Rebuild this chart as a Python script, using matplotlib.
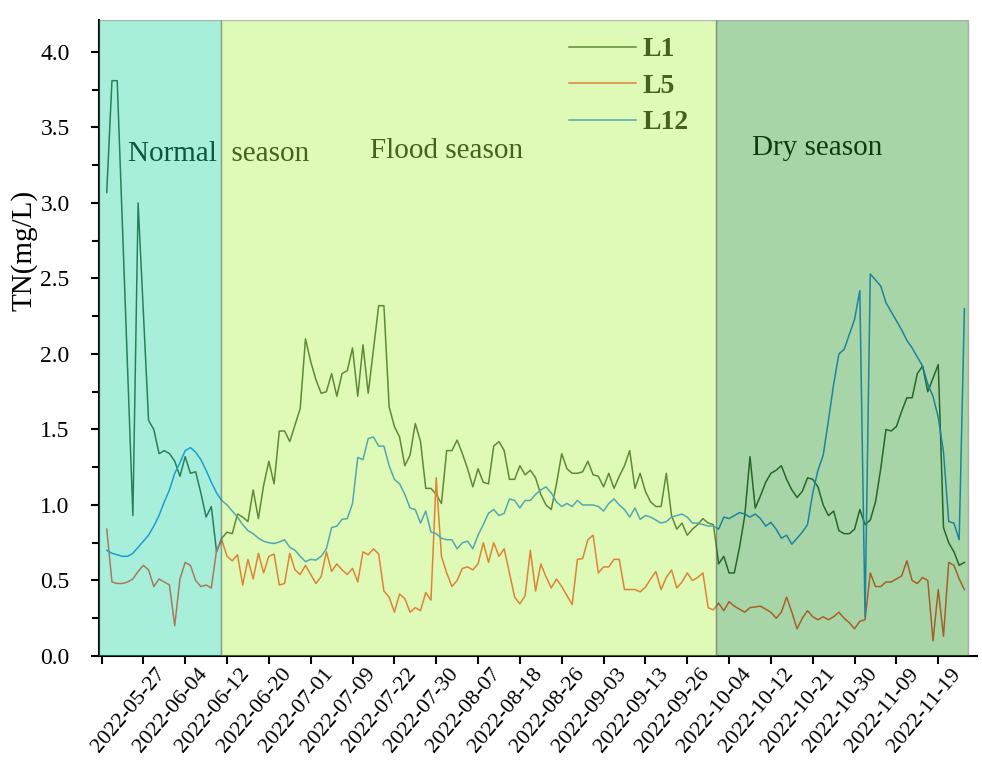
import numpy as np
import matplotlib
matplotlib.use('Agg')
import matplotlib.pyplot as plt
import matplotlib.transforms as mtransforms
from matplotlib.ticker import MultipleLocator, FormatStrFormatter

plt.rcParams['font.family'] = ['Liberation Serif', 'DejaVu Serif']

# tick dates (one label every 8 samples)
dates = ['2022-05-27', '2022-06-04', '2022-06-12', '2022-06-20', '2022-07-01',
         '2022-07-09', '2022-07-22', '2022-07-30', '2022-08-07', '2022-08-18',
         '2022-08-26', '2022-09-03', '2022-09-13', '2022-09-26', '2022-10-04',
         '2022-10-12', '2022-10-21', '2022-10-30', '2022-11-09', '2022-11-19']

# TN (mg/L) per sample
L1 = [3.07, 3.81, 3.81, 2.85, 1.89, 0.93, 3.00, 2.28, 1.56, 1.50,
      1.34, 1.36, 1.34, 1.29, 1.19, 1.32, 1.21, 1.22, 1.08, 0.92,
      0.99, 0.69, 0.78, 0.82, 0.81, 0.94, 0.92, 0.89, 1.10, 0.91,
      1.13, 1.29, 1.14, 1.49, 1.49, 1.42, 1.53, 1.64, 2.10, 1.95,
      1.83, 1.74, 1.75, 1.87, 1.72, 1.87, 1.89, 2.04, 1.72, 2.06,
      1.74, 2.03, 2.32, 2.32, 1.65, 1.52, 1.45, 1.26, 1.33, 1.54,
      1.42, 1.11, 1.11, 1.07, 1.01, 1.36, 1.36, 1.43, 1.34, 1.24,
      1.12, 1.24, 1.15, 1.14, 1.39, 1.42, 1.36, 1.17, 1.17, 1.26,
      1.20, 1.23, 1.18, 1.07, 1.00, 0.97, 1.14, 1.34, 1.24, 1.21,
      1.21, 1.22, 1.29, 1.20, 1.19, 1.12, 1.21, 1.11, 1.19, 1.26,
      1.36, 1.11, 1.21, 1.09, 1.02, 0.99, 0.99, 1.21, 0.93, 0.84,
      0.88, 0.80, 0.84, 0.87, 0.91, 0.88, 0.87, 0.61, 0.66, 0.55,
      0.55, 0.72, 0.93, 1.32, 0.98, 1.06, 1.15, 1.21, 1.23, 1.26,
      1.17, 1.10, 1.05, 1.09, 1.18, 1.17, 1.12, 1.00, 0.93, 0.96,
      0.83, 0.81, 0.81, 0.84, 0.97, 0.87, 0.90, 1.02, 1.24, 1.50,
      1.49, 1.52, 1.62, 1.71, 1.71, 1.87, 1.92, 1.75, 1.84, 1.93,
      0.85, 0.75, 0.69, 0.60, 0.62]

L5 = [0.84, 0.49, 0.48, 0.48, 0.49, 0.51, 0.56, 0.60, 0.57, 0.46,
      0.51, 0.49, 0.47, 0.20, 0.51, 0.62, 0.60, 0.50, 0.46, 0.47,
      0.45, 0.70, 0.77, 0.66, 0.63, 0.67, 0.47, 0.64, 0.51, 0.68,
      0.55, 0.66, 0.675, 0.47, 0.48, 0.68, 0.57, 0.54, 0.60, 0.54,
      0.48, 0.525, 0.69, 0.56, 0.61, 0.57, 0.54, 0.58, 0.49, 0.69,
      0.67, 0.71, 0.675, 0.43, 0.39, 0.29, 0.41, 0.38, 0.29, 0.32,
      0.30, 0.42, 0.37, 1.18, 0.66, 0.55, 0.46, 0.50, 0.58, 0.59,
      0.57, 0.61, 0.75, 0.62, 0.75, 0.66, 0.71, 0.55, 0.39, 0.345,
      0.40, 0.70, 0.43, 0.61, 0.525, 0.45, 0.51, 0.46, 0.40, 0.34,
      0.64, 0.645, 0.77, 0.80, 0.55, 0.59, 0.59, 0.64, 0.64, 0.44,
      0.44, 0.44, 0.425, 0.455, 0.51, 0.56, 0.44, 0.52, 0.57, 0.45,
      0.49, 0.55, 0.50, 0.52, 0.55, 0.32, 0.305, 0.35, 0.30, 0.36,
      0.33, 0.31, 0.29, 0.32, 0.325, 0.33, 0.31, 0.29, 0.25, 0.29,
      0.39, 0.29, 0.18, 0.25, 0.30, 0.26, 0.24, 0.26, 0.24, 0.26,
      0.29, 0.25, 0.22, 0.18, 0.23, 0.24, 0.55, 0.46, 0.46, 0.49,
      0.49, 0.51, 0.53, 0.63, 0.50, 0.48, 0.52, 0.50, 0.10, 0.44,
      0.13, 0.62, 0.60, 0.51, 0.44]

L12 = [0.70, 0.68, 0.67, 0.66, 0.66, 0.68, 0.72, 0.76, 0.80, 0.86,
       0.93, 1.02, 1.10, 1.21, 1.28, 1.36, 1.38, 1.35, 1.30, 1.23,
       1.15, 1.08, 1.03, 1.00, 0.96, 0.92, 0.87, 0.83, 0.81, 0.78,
       0.76, 0.75, 0.745, 0.755, 0.77, 0.72, 0.70, 0.66, 0.625, 0.64,
       0.635, 0.66, 0.71, 0.85, 0.86, 0.905, 0.91, 1.01, 1.315, 1.30,
       1.44, 1.45, 1.39, 1.39, 1.26, 1.17, 1.14, 1.07, 0.98, 0.97,
       0.88, 0.96, 0.82, 0.81, 0.78, 0.77, 0.77, 0.71, 0.75, 0.76,
       0.71, 0.80, 0.87, 0.945, 0.97, 0.93, 0.945, 1.04, 1.03, 0.98,
       1.03, 1.03, 1.07, 1.10, 1.12, 1.08, 1.02, 0.99, 1.01, 0.99,
       1.03, 1.00, 1.00, 1.00, 0.99, 0.96, 1.01, 1.04, 1.00, 0.97,
       0.92, 0.98, 0.905, 0.93, 0.92, 0.90, 0.88, 0.89, 0.92, 0.93,
       0.94, 0.92, 0.88, 0.88, 0.87, 0.86, 0.86, 0.84, 0.92, 0.91,
       0.93, 0.95, 0.94, 0.92, 0.94, 0.91, 0.86, 0.885, 0.84, 0.78,
       0.80, 0.74, 0.78, 0.82, 0.87, 1.08, 1.23, 1.33, 1.56, 1.80,
       2.00, 2.03, 2.13, 2.23, 2.42, 0.26, 2.53, 2.49, 2.45, 2.34,
       2.28, 2.22, 2.16, 2.09, 2.04, 1.98, 1.92, 1.80, 1.72, 1.58,
       1.35, 0.89, 0.88, 0.77, 2.30]

# season limits in sample index
season_bounds = [-0.5, 22.9, 117.5, 165.7]
season_names = ['Normal  season', 'Flood season', 'Dry season']
season_colors = ['#26D9A7', '#B1F24D', '#269826']

x = np.arange(1, len(L1) + 1)
tick_pos = np.arange(8, 161, 8)

fig = plt.figure(figsize=(9.82, 7.65), dpi=100)
ax = fig.add_axes([0.1007, 0.1425, 0.8947, 0.831])

ax.plot(x, L1, color='#284628', lw=1.1, label='L1', zorder=1)
ax.plot(x, L5, color='#FA3C28', lw=1.1, label='L5', zorder=1)
ax.plot(x, L12, color='#1478F0', lw=1.1, label='L12', zorder=1)

# season text sits under the translucent shading, like the lines
text_pos = [(5.1, 3.275), (51.3, 3.30), (124.4, 3.32)]
for name, (tx, ty) in zip(season_names, text_pos):
    ax.text(tx, ty, name, fontsize=21, color='black', va='baseline', zorder=1)

leg = ax.legend(loc='upper left', bbox_to_anchor=(0.535, 0.974), frameon=False,
                prop={'weight': 'bold', 'size': 20}, handlelength=2.4,
                handletextpad=0.25, labelspacing=0.4, borderaxespad=0, borderpad=0)
leg.set_zorder(1)

for i in range(len(season_names)):
    ax.axvspan(season_bounds[i], season_bounds[i + 1], facecolor=season_colors[i],
               edgecolor='#606060', lw=1.0, alpha=0.4, zorder=3)

ax.set_xlim(-0.5, 167.5)
ax.set_ylim(0, 4.21)

# x tick at 0 has no label; date labels drawn as text so they can sit right of the ticks
ax.set_xticks(np.arange(0, 161, 8))
ax.set_xticklabels([])
shift = ax.get_xaxis_transform() + mtransforms.ScaledTranslation(12 / 100, -9 / 100, fig.dpi_scale_trans)
for p, d in zip(tick_pos, dates):
    ax.text(p, 0, d, transform=shift, rotation=50, rotation_mode='anchor',
            ha='right', va='top', fontsize=16, clip_on=False)

ax.yaxis.set_major_locator(MultipleLocator(0.5))
ax.yaxis.set_minor_locator(MultipleLocator(0.25))
ax.yaxis.set_major_formatter(FormatStrFormatter('%.1f'))
ax.tick_params(axis='both', which='both', direction='out', width=1.5, labelsize=17)
ax.tick_params(axis='both', which='major', length=6)
ax.tick_params(axis='y', which='minor', length=5)
ax.tick_params(axis='y', which='major', pad=15)

for s in ['top', 'right']:
    ax.spines[s].set_visible(False)
for s in ['left', 'bottom']:
    ax.spines[s].set_linewidth(1.5)

ax.set_ylabel('TN(mg/L)', fontsize=21)
ax.yaxis.set_label_coords(-0.07, 0.638)

fig.savefig('out.png', dpi=100)
